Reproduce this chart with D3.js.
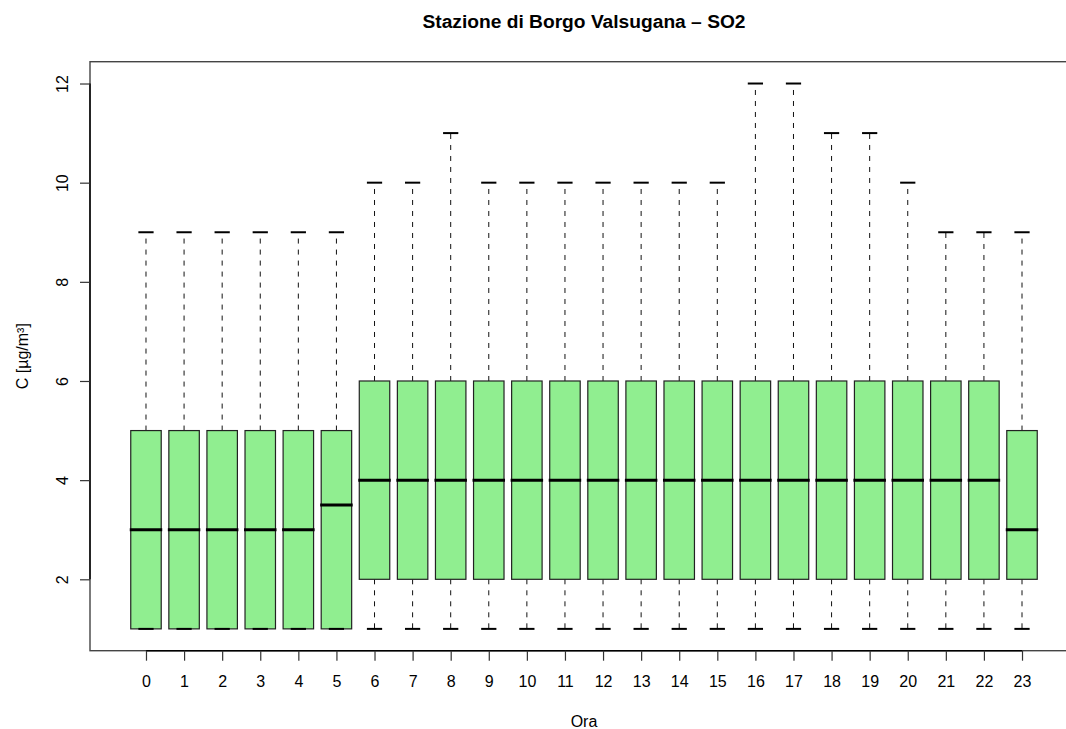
<!DOCTYPE html>
<html>
<head>
<meta charset="utf-8">
<script src="https://cdn.jsdelivr.net/npm/d3@7"></script>
<style>
  body { margin: 0; background: #fff; }
  text { font-family: "Liberation Sans", Arial, Helvetica, sans-serif; fill: #000; }
</style>
</head>
<body>
<script>
// data (one entry per hour)
const hours = ["0","1","2","3","4","5","6","7","8","9","10","11","12","13","14","15","16","17","18","19","20","21","22","23"];
const whiskerLow = [1,1,1,1,1,1,1,1,1,1,1,1,1,1,1,1,1,1,1,1,1,1,1,1];
const q1 = [1,1,1,1,1,1,2,2,2,2,2,2,2,2,2,2,2,2,2,2,2,2,2,2];
const medians = [3,3,3,3,3,3.5,4,4,4,4,4,4,4,4,4,4,4,4,4,4,4,4,4,3];
const q3 = [5,5,5,5,5,5,6,6,6,6,6,6,6,6,6,6,6,6,6,6,6,6,6,5];
const whiskerHigh = [9,9,9,9,9,9,10,10,11,10,10,10,10,10,10,10,12,12,11,11,10,9,9,9];
const yTicks = [2,4,6,8,10,12];

const w = 1066;
const h = 729;
const plotL = 90, plotR = 1078, plotT = 61.7, plotB = 650.7;

const dataset = hours.map((d, i) => ({
  hour: i, label: d,
  lo: whiskerLow[i], q1: q1[i], med: medians[i], q3: q3[i], hi: whiskerHigh[i]
}));

const xScale = d3.scaleLinear()
                 .domain([-1.47, 24.47])
                 .range([plotL, plotR]);
const yScale = d3.scaleLinear()
                 .domain([0.56, 12.44])
                 .range([plotB, plotT]);

const boxW = xScale(0.4) - xScale(0);     // half box width
const stapleW = xScale(0.2) - xScale(0);  // half staple width

const svg = d3.select("body")
  .append("svg")
  .attr("width", w)
  .attr("height", h);

// plot frame
svg.append("rect")
   .attr("x", plotL)
   .attr("y", plotT)
   .attr("width", plotR - plotL)
   .attr("height", plotB - plotT)
   .attr("fill", "none")
   .attr("stroke", "#444")
   .attr("stroke-width", 1.4);

const g = svg.selectAll("g.box")
  .data(dataset)
  .enter()
  .append("g")
  .attr("class", "box");

// dashed whiskers
g.append("line")
 .attr("x1", (d) => xScale(d.hour))
 .attr("x2", (d) => xScale(d.hour))
 .attr("y1", (d) => yScale(d.q3))
 .attr("y2", (d) => yScale(d.hi))
 .attr("stroke", "#111")
 .attr("stroke-width", 1)
 .attr("stroke-dasharray", "5,6");

g.append("line")
 .attr("x1", (d) => xScale(d.hour))
 .attr("x2", (d) => xScale(d.hour))
 .attr("y1", (d) => yScale(d.q1))
 .attr("y2", (d) => yScale(d.lo))
 .attr("stroke", "#111")
 .attr("stroke-width", 1)
 .attr("stroke-dasharray", "5,6");

// boxes
g.append("rect")
 .attr("x", (d) => xScale(d.hour) - boxW)
 .attr("y", (d) => yScale(d.q3))
 .attr("width", boxW * 2)
 .attr("height", (d) => yScale(d.q1) - yScale(d.q3))
 .attr("fill", "#90EE90")
 .attr("stroke", "#222")
 .attr("stroke-width", 1.2);

// staples
g.append("line")
 .attr("x1", (d) => xScale(d.hour) - stapleW)
 .attr("x2", (d) => xScale(d.hour) + stapleW)
 .attr("y1", (d) => yScale(d.hi))
 .attr("y2", (d) => yScale(d.hi))
 .attr("stroke", "#000")
 .attr("stroke-width", 2);

g.append("line")
 .attr("x1", (d) => xScale(d.hour) - stapleW)
 .attr("x2", (d) => xScale(d.hour) + stapleW)
 .attr("y1", (d) => yScale(d.lo))
 .attr("y2", (d) => yScale(d.lo))
 .attr("stroke", "#000")
 .attr("stroke-width", 2);

// medians
g.append("line")
 .attr("x1", (d) => xScale(d.hour) - boxW - 1)
 .attr("x2", (d) => xScale(d.hour) + boxW + 1)
 .attr("y1", (d) => yScale(d.med))
 .attr("y2", (d) => yScale(d.med))
 .attr("stroke", "#000")
 .attr("stroke-width", 3);

// x axis
const xAxis = d3.axisBottom(xScale)
  .tickValues(d3.range(hours.length))
  .tickFormat((d) => hours[d])
  .tickSize(10)
  .tickSizeOuter(0);

const xg = svg.append("g")
   .attr("transform", `translate(0, ${plotB})`)
   .call(xAxis);
xg.select(".domain")
  .attr("d", `M${xScale(0)},0H${xScale(hours.length - 1)}`)
  .attr("stroke", "#000")
  .attr("stroke-width", 1.4);
xg.selectAll(".tick line").attr("stroke", "#333").attr("stroke-width", 1.2);
xg.selectAll(".tick text")
  .attr("y", 0)
  .attr("dy", null)
  .attr("transform", "translate(0, 36.5)")
  .style("font-size", "16px")
  .style("font-family", "'Liberation Sans', Arial, sans-serif")
  .attr("fill", "#000");

// y axis
const yAxis = d3.axisLeft(yScale)
  .tickValues(yTicks)
  .tickSize(10)
  .tickSizeOuter(0);

const yg = svg.append("g")
   .attr("transform", `translate(${plotL}, 0)`)
   .call(yAxis);
yg.select(".domain")
  .attr("d", `M0,${yScale(yTicks[0])}V${yScale(yTicks[yTicks.length - 1])}`)
  .attr("stroke", "#000")
  .attr("stroke-width", 1.4);
yg.selectAll(".tick line").attr("stroke", "#333").attr("stroke-width", 1.2);
yg.selectAll(".tick text")
  .attr("x", 0)
  .attr("dy", null)
  .attr("text-anchor", "middle")
  .attr("transform", "translate(-22, 0) rotate(-90)")
  .style("font-size", "16px")
  .style("font-family", "'Liberation Sans', Arial, sans-serif")
  .attr("fill", "#000");

// titles
svg.append("text")
   .attr("x", (plotL + plotR) / 2)
   .attr("y", 28)
   .attr("text-anchor", "middle")
   .style("font-size", "19.2px")
   .style("font-weight", "bold")
   .text("Stazione di Borgo Valsugana \u2013 SO2");

svg.append("text")
   .attr("x", (plotL + plotR) / 2)
   .attr("y", 727)
   .attr("text-anchor", "middle")
   .style("font-size", "16px")
   .text("Ora");

svg.append("text")
   .attr("transform", `translate(28, ${(plotT + plotB) / 2}) rotate(-90)`)
   .attr("text-anchor", "middle")
   .style("font-size", "16px")
   .text("C [\u00b5g/m\u00b3]");
</script>
</body>
</html>
